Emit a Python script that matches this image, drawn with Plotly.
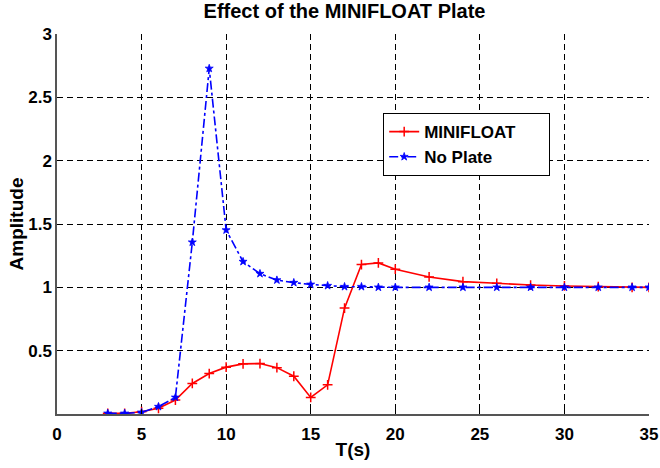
import plotly.graph_objects as go

t_vals = [3, 4, 5, 6, 7, 8, 9, 10, 11, 12, 13, 14, 15, 16, 17, 18, 19, 20,
          22, 24, 26, 28, 30, 32, 34, 35]
minifloat = [0.005, 0.005, 0.018, 0.045, 0.11, 0.241, 0.319, 0.37, 0.396, 0.398,
             0.366, 0.298, 0.131, 0.23, 0.836, 1.18, 1.193, 1.143,
             1.082, 1.045, 1.032, 1.018, 1.011, 1.005, 1.0, 1.0]
no_plate = [0.005, 0.005, 0.013, 0.058, 0.131, 1.356, 2.728, 1.452, 1.203, 1.108,
            1.057, 1.037, 1.023, 1.013, 1.005, 1.005, 1.0, 1.0,
            1.0, 1.0, 1.0, 1.0, 1.0, 1.0, 1.0, 1.0]

x_ticks = [0, 5, 10, 15, 20, 25, 30, 35]
y_ticks = [0.5, 1, 1.5, 2, 2.5, 3]
y_tick_text = ["0.5", "1", "1.5", "2", "2.5", "3"]

font_family = "Liberation Sans, Arial, sans-serif"

fig = go.Figure()
fig.add_trace(go.Scatter(
    x=t_vals, y=minifloat, name="<b>MINIFLOAT</b>&nbsp;&nbsp;&nbsp;&nbsp;&nbsp;&nbsp;",
    mode="lines+markers",
    line=dict(color="#ff0000", width=1.6),
    marker=dict(symbol="cross-thin-open", size=7, color="#ff0000",
                line=dict(color="#ff0000", width=1.5)),
))
fig.add_trace(go.Scatter(
    x=t_vals, y=no_plate, name="<b>No Plate</b>", mode="lines+markers",
    line=dict(color="#0000ff", width=1.6, dash="dashdot"),
    marker=dict(symbol="star", size=6, color="#0000ff",
                line=dict(color="#0000ff", width=0.8)),
))

fig.update_layout(
    width=660, height=468,
    margin=dict(l=57, r=11, t=34, b=54),
    paper_bgcolor="white", plot_bgcolor="white",
    font=dict(family=font_family, size=17, color="black"),
    title=dict(text="<b>Effect of the MINIFLOAT Plate</b>", x=0.522, xanchor="center",
               y=0.9765, yanchor="middle", font=dict(size=20, color="black")),
    showlegend=True,
    legend=dict(x=0.551, y=0.792, xanchor="left", yanchor="top",
                bgcolor="white", bordercolor="black", borderwidth=1,
                font=dict(size=17, color="black", family=font_family),
                tracegroupgap=0),
)
fig.update_xaxes(
    range=[0, 35], tickvals=x_ticks, ticktext=[f"<b>{v}</b>" for v in x_ticks],
    showline=True, linecolor="#555555", linewidth=1.5, automargin=False,
    ticks="inside", ticklen=5, tickcolor="black", ticklabelstandoff=4,
    ticklabeloverflow="allow",
    showgrid=True, gridcolor="black", gridwidth=1, griddash="6px,4px",
    zeroline=False, tickfont=dict(size=17),
    title=dict(text="<b>T(s)</b>", font=dict(size=19), standoff=0),
)
fig.update_yaxes(
    range=[0, 3], tickvals=y_ticks, ticktext=[f"<b>{v}</b>" for v in y_tick_text],
    showline=True, linecolor="#555555", linewidth=1.5, automargin=False,
    ticks="inside", ticklen=5, tickcolor="black",
    showgrid=True, gridcolor="black", gridwidth=1, griddash="6px,4px",
    zeroline=False, tickfont=dict(size=17),
    title=dict(text="<b>Amplitude</b>", font=dict(size=19), standoff=0),
)

fig.write_html("out.html", config={"displayModeBar": False},
               post_script="document.body.style.margin='0';document.body.style.padding='0';")
